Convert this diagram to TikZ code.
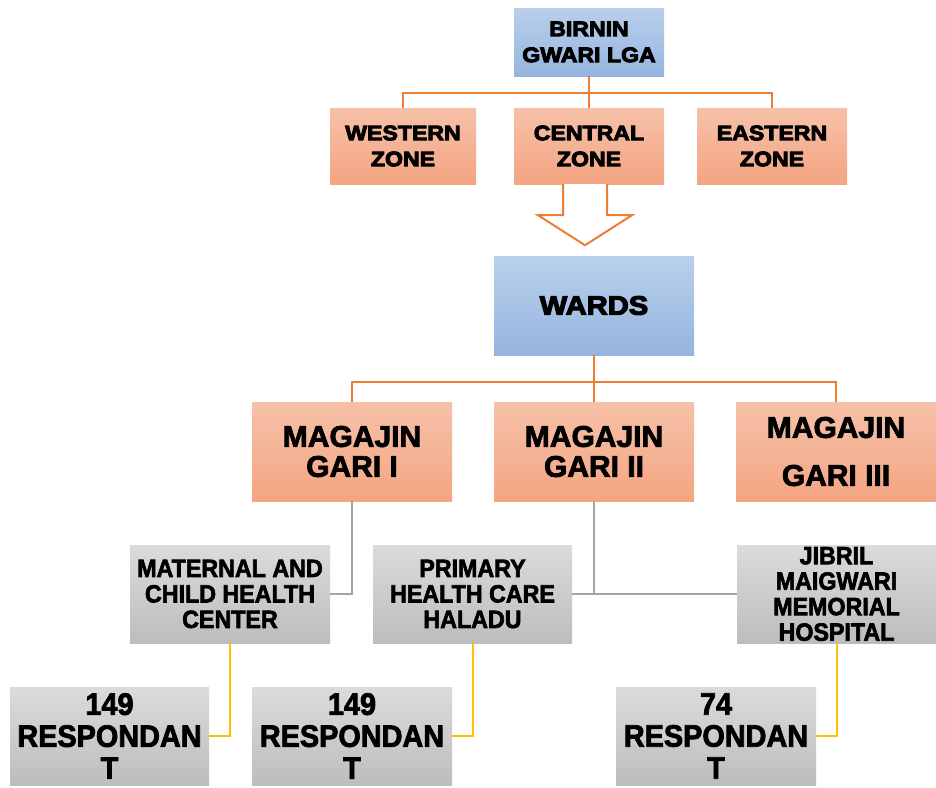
\documentclass[tikz,border=0pt]{standalone}
\usepackage{fontspec}
\usepackage{tikz}
\usepackage{xcolor}
\usetikzlibrary{calc}
\setmainfont{Liberation Sans}[BoldFeatures={FakeBold=2.5}]
\newfontfamily\widefont{Liberation Sans}[FakeStretch=1.1,BoldFeatures={FakeBold=4.5}]
\newfontfamily\narrowfont{Liberation Sans}[FakeStretch=0.93,BoldFeatures={FakeBold=2.5}]

\definecolor{bluetop}{HTML}{B9D0EB}
\definecolor{bluebot}{HTML}{95B4DF}
\definecolor{salmtop}{HTML}{F6C1A9}
\definecolor{salmbot}{HTML}{F4A582}
\definecolor{graytop}{HTML}{DBDBDB}
\definecolor{graybot}{HTML}{BDBDBD}
\definecolor{lineorange}{HTML}{ED7D31}
\definecolor{linegray}{HTML}{A5A5A5}
\definecolor{lineyellow}{HTML}{FFC000}

\tikzset{
    box/.style={align=center, inner sep=0pt, text=black},
    bluebox/.style={box, top color=bluetop, bottom color=bluebot},
    salmonbox/.style={box, top color=salmtop, bottom color=salmbot},
    graybox/.style={box, top color=graytop, bottom color=graybot},
    orangeline/.style={draw=lineorange, line width=2pt},
    grayline/.style={draw=linegray, line width=2pt},
    yellowline/.style={draw=lineyellow, line width=2pt}
}

\begin{document}
\begin{tikzpicture}[x=1pt,y=-1pt]
    \useasboundingbox[fill=white] (0,0) rectangle (936,787);

    % top level
    \node[bluebox, minimum width=150pt, minimum height=68pt,
          font=\widefont\bfseries\fontsize{21}{26}\selectfont] (lga) at (589,42) {BIRNIN\\GWARI LGA};

    % zones
    \node[salmonbox, minimum width=146pt, minimum height=76pt,
          font=\widefont\bfseries\fontsize{21}{26}\selectfont] (west) at (403,146) {WESTERN\\ZONE};
    \node[salmonbox, minimum width=150pt, minimum height=76pt,
          font=\widefont\bfseries\fontsize{21}{26}\selectfont] (central) at (589,146) {CENTRAL\\ZONE};
    \node[salmonbox, minimum width=150pt, minimum height=76pt,
          font=\widefont\bfseries\fontsize{21}{26}\selectfont] (east) at (772,146) {EASTERN\\ZONE};

    \draw[orangeline] (lga.south) -- (central.north);
    \draw[orangeline] (lga.south) -- ++(0,17) -| (west.north);
    \draw[orangeline] (lga.south) -- ++(0,17) -| (east.north);

    % wards
    \node[bluebox, minimum width=200pt, minimum height=99pt,
          font=\widefont\bfseries\fontsize{26.5}{28}\selectfont] (wards) at (594,305.5) {WARDS};

    % block arrow
    \draw[orangeline, fill=white, line join=miter]
        ($(central.south)+(-26,0)$) -- ++(0,31) -- ++(-25,0)
        -- ($(central.south)+(-4,61)$) -- ($(central.south)+(43,31)$)
        -- ++(-25,0) -- ++(0,-31);

    % magajin gari
    \node[salmonbox, minimum width=200pt, minimum height=99pt,
          font=\bfseries\fontsize{30}{30}\selectfont] (mag1) at (352,451.5) {MAGAJIN\\GARI I};
    \node[salmonbox, minimum width=200pt, minimum height=99pt,
          font=\bfseries\fontsize{30}{30}\selectfont] (mag2) at (594,451.5) {MAGAJIN\\GARI II};
    \node[salmonbox, minimum width=200pt, minimum height=99pt,
          font=\bfseries\fontsize{30}{30}\selectfont] (mag3) at (836,451.5) {MAGAJIN\\[18pt]GARI III};

    \draw[orangeline] (wards.south) -- (mag2.north);
    \draw[orangeline] (wards.south) -- ++(0,27) -| (mag1.north);
    \draw[orangeline] (wards.south) -- ++(0,27) -| (mag3.north);

    % health facilities
    \node[graybox, minimum width=200pt, minimum height=98pt,
          font=\narrowfont\bfseries\fontsize{25}{25.5}\selectfont] (mch) at (230,594) {MATERNAL AND\\CHILD HEALTH\\CENTER};
    \node[graybox, minimum width=199pt, minimum height=98pt,
          font=\narrowfont\bfseries\fontsize{25}{25.5}\selectfont] (phc) at (472.5,594) {PRIMARY\\HEALTH CARE\\HALADU};
    \node[graybox, minimum width=199pt, minimum height=98pt,
          font=\narrowfont\bfseries\fontsize{25}{25.5}\selectfont] (jibril) at (836.5,594) {JIBRIL\\MAIGWARI\\MEMORIAL\\HOSPITAL};

    \draw[grayline] (mag1.south) |- (mch.east);
    \draw[grayline] (phc.east) -- (jibril.west);
    \draw[grayline] (mag2.south) -- (mag2.south |- phc.east);

    % respondents
    \node[graybox, minimum width=199pt, minimum height=98pt,
          font=\narrowfont\bfseries\fontsize{31}{32}\selectfont] (resp1) at (109.5,736) {149\\RESPONDAN\\T};
    \node[graybox, minimum width=200pt, minimum height=98pt,
          font=\narrowfont\bfseries\fontsize{31}{32}\selectfont] (resp2) at (352,736) {149\\RESPONDAN\\T};
    \node[graybox, minimum width=200pt, minimum height=98pt,
          font=\narrowfont\bfseries\fontsize{31}{32}\selectfont] (resp3) at (716,736) {74\\RESPONDAN\\T};

    \draw[yellowline] (mch.south) |- (resp1.east);
    \draw[yellowline] (phc.south) |- (resp2.east);
    \draw[yellowline] (jibril.south) |- (resp3.east);
\end{tikzpicture}
\end{document}
